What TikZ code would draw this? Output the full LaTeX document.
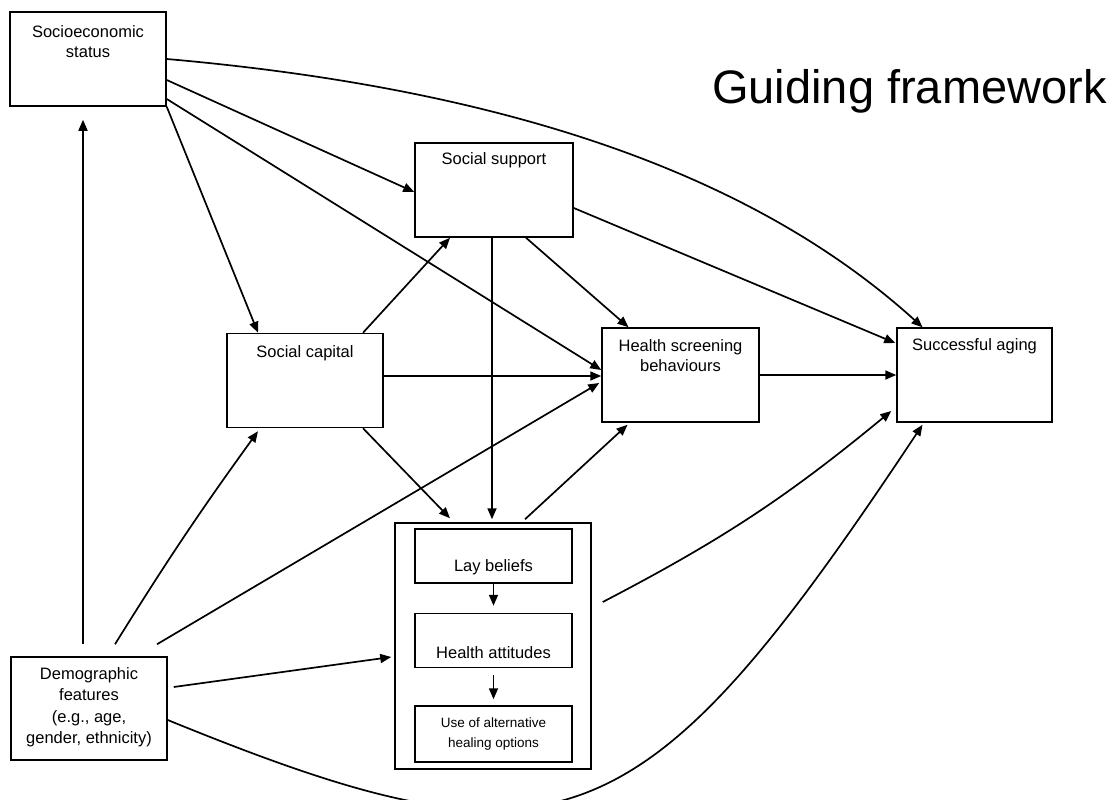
\documentclass[tikz,border=0pt]{standalone}
\usepackage{fontspec}
\setmainfont{Liberation Sans}
\usetikzlibrary{arrows.meta,positioning}

\begin{document}
\begin{tikzpicture}[x=1pt,y=-1pt,>={Triangle[length=11pt,width=9pt]},
  box/.style={draw,line width=1.5pt,minimum width=156pt,minimum height=94pt,inner sep=0pt},
  txt/.style={inner sep=0pt,align=center,font=\fontsize{16.5}{20.5}\selectfont},
  link/.style={->,line width=1.7pt}]
\useasboundingbox (0,0) rectangle (1116,800);
\node[anchor=base west,inner sep=0pt,font=\fontsize{47}{50}\selectfont] (title) at (712,103) {Guiding framework};
\node[box] (ses) at (88,59) {};
\node[txt,below=14pt of ses.north] (ses-t) {Socioeconomic\\status};
\node[box,minimum width=158pt] (support) at (494,190) {};
\node[txt,below=10pt of support.north] (support-t) {Social support};
\node[box] (capital) at (305,380.5) {};
\node[txt,below=13pt of capital.north] (capital-t) {Social capital};
\node[box,minimum width=157pt] (hsb) at (680.5,375) {};
\node[txt,below=12pt of hsb.north] (hsb-t) {Health screening\\behaviours};
\node[box,minimum width=155pt] (succ) at (974.5,375) {};
\node[txt,below=11pt of succ.north] (succ-t) {Successful aging};
\node[box,minimum width=196pt,minimum height=246pt] (outer) at (493,646) {};
\node[box,minimum width=157pt,minimum height=54pt] (lay) at (493.5,556) {};
\node[txt,below=31pt of lay.north] (lay-t) {Lay beliefs};
\node[box,minimum width=157pt,minimum height=54pt,below=29pt of lay] (att) {};
\node[txt,below=34pt of att.north] (att-t) {Health attitudes};
\node[box,minimum width=157pt,minimum height=56pt,below=37pt of att] (use) {};
\node[txt,font=\fontsize{13.5}{20}\selectfont,below=12pt of use.north] (use-t) {Use of alternative\\healing options};
\node[box,minimum height=103pt] (demo) at (89,708.5) {};
\node[txt,font=\fontsize{16.5}{21.5}\selectfont,below=11pt of demo.north] (demo-t) {Demographic\\features\\(e.g., age,\\gender, ethnicity)};
\draw[link] ([xshift=-6pt,yshift=12pt]demo.north) -- ([xshift=-5pt,yshift=-13pt]ses.south);
\draw[link] (ses.east) .. controls (520,90) and (760,180) .. ([xshift=-52pt]succ.north);
\draw[link] ([yshift=-21pt]ses.east) -- ([yshift=-2pt]support.west);
\draw[link] ([yshift=-40pt]ses.east) -- ([yshift=5pt]hsb.west);
\draw[link] (ses.south east) -- ([xshift=-47pt]capital.north);
\draw[link] ([xshift=58pt]capital.north) -- ([xshift=-44pt]support.south);
\draw[link] ([yshift=4.5pt]capital.east) -- ([yshift=-1pt]hsb.west);
\draw[link] (hsb.east) -- (succ.west);
\draw[link] ([xshift=32pt]support.south) -- ([xshift=-52pt]hsb.north);
\draw[link] ([xshift=-2pt]support.south) -- ([xshift=-1pt,yshift=3pt]outer.north);
\draw[link] ([yshift=-18pt]support.east) -- ([xshift=-1pt,yshift=32pt]succ.west);
\draw[link] ([xshift=58pt]capital.south) -- ([xshift=-43pt,yshift=4pt]outer.north);
\draw[link] ([xshift=32pt,yshift=3pt]outer.north) -- ([xshift=-53pt,yshift=-2pt]hsb.south);
\draw[link] ([xshift=11pt,yshift=44pt]outer.east) to[bend right=6] ([xshift=-5pt,yshift=-36pt]succ.west);
\draw[link] ([xshift=26pt,yshift=12pt]demo.north) to[bend left=2] ([xshift=-47pt,yshift=-3pt]capital.south);
\draw[link] ([xshift=68pt,yshift=12pt]demo.north) -- ([xshift=-2pt,yshift=-8pt]hsb.west);
\draw[link] ([xshift=6pt,yshift=21.5pt]demo.east) -- ([xshift=-3pt,yshift=-11pt]outer.west);
\draw[link] ([yshift=-11.5pt]demo.east) .. controls (560,880) and (640,850) .. ([xshift=-52pt,yshift=-2pt]succ.south);
\draw[link,shorten >=7pt] (lay) -- (att); \draw[link,shorten <=7pt,shorten >=6pt] (att) -- (use);
\end{tikzpicture}
\end{document}
